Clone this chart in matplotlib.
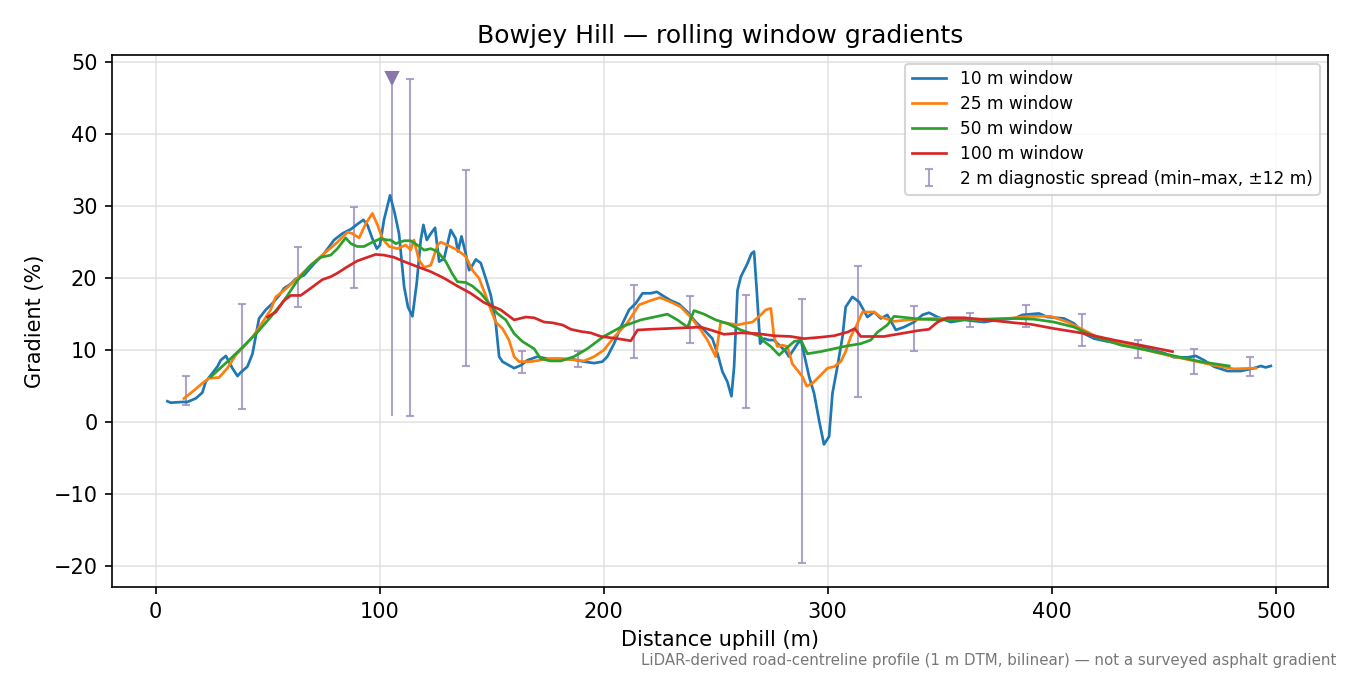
import matplotlib
matplotlib.use("Agg")
import matplotlib.pyplot as plt

# rolling-window gradient profiles (distance m, gradient %)
x10 = [5.2, 6.7, 11.9, 14.1, 17.9, 20.8, 22.3, 25.3, 27.5, 29.0,
       31.3, 32.7, 34.2, 36.5, 37.9, 40.9, 43.2, 44.6, 46.1, 49.1,
       52.1, 55.1, 57.3, 60.3, 62.5, 66.2, 70.7, 75.1, 79.6, 83.3,
       87.1, 90.0, 92.7, 94.5, 96.7, 98.7, 100.1, 101.9, 104.6, 106.7,
       108.6, 110.9, 112.6, 114.6, 116.5, 118.3, 119.5, 121.0, 122.8, 124.7,
       126.5, 128.7, 131.7, 133.9, 134.9, 136.5, 138.4, 139.9, 141.4, 142.9,
       145.1, 147.3, 149.6, 151.8, 153.3, 154.8, 157.7, 160.0, 163.0, 165.9,
       170.4, 174.9, 180.8, 186.7, 191.2, 195.7, 199.4, 201.6, 204.6, 207.6,
       211.3, 214.3, 217.3, 221.0, 223.7, 226.2, 229.9, 233.6, 237.4, 241.1,
       244.8, 248.5, 250.8, 253.0, 255.2, 257.0, 258.2, 259.7, 261.2, 264.1,
       265.9, 267.1, 268.3, 269.8, 271.6, 273.8, 276.0, 279.0, 281.3, 282.7,
       284.2, 286.5, 288.0, 289.4, 291.7, 293.9, 296.1, 298.3, 300.6, 302.1,
       304.3, 306.6, 308.0, 311.0, 314.0, 317.7, 320.7, 323.7, 326.6, 330.4,
       334.0, 338.5, 342.3, 345.2, 349.0, 354.9, 360.9, 369.8, 375.8, 383.2,
       386.9, 394.3, 398.1, 405.5, 410.0, 414.4, 418.9, 424.9, 432.3, 442.7,
       450.1, 454.6, 460.6, 464.3, 468.0, 472.5, 478.4, 484.4, 490.3, 493.3,
       495.5, 497.8]
g10 = [2.9, 2.7, 2.8, 2.8, 3.3, 4.1, 5.6, 6.8, 7.7, 8.6,
       9.2, 8.4, 7.5, 6.4, 6.9, 7.7, 9.5, 11.9, 14.4, 15.6,
       16.5, 17.6, 18.6, 19.2, 19.9, 20.4, 22.0, 23.4, 25.3, 26.2,
       26.8, 27.5, 28.1, 27.4, 25.5, 24.1, 24.6, 28.1, 31.5, 29.0,
       26.2, 18.8, 16.0, 14.7, 19.3, 25.3, 27.4, 25.3, 26.2, 27.0,
       22.3, 22.7, 26.7, 25.5, 23.7, 25.8, 23.4, 21.1, 21.8, 22.6,
       22.1, 20.0, 17.6, 13.7, 9.1, 8.4, 7.9, 7.5, 7.9, 8.6,
       9.1, 8.8, 8.8, 8.7, 8.4, 8.2, 8.4, 9.1, 10.9, 13.2,
       15.6, 16.5, 17.9, 17.9, 18.1, 17.6, 16.9, 16.4, 15.3, 13.9,
       12.8, 11.6, 9.5, 7.0, 5.6, 3.6, 7.7, 18.3, 20.2, 22.0,
       23.4, 23.7, 18.3, 10.9, 11.6, 11.4, 11.4, 10.5, 9.8, 9.1,
       9.8, 10.9, 11.4, 9.5, 6.3, 4.0, 0.3, -3.1, -2.0, 4.0,
       7.7, 11.9, 16.0, 17.4, 16.7, 14.6, 15.3, 14.4, 14.9, 12.8,
       13.2, 13.9, 14.9, 15.2, 14.6, 13.9, 14.2, 13.9, 14.2, 14.4,
       14.9, 15.1, 14.6, 14.4, 13.7, 12.3, 11.6, 11.2, 10.9, 10.2,
       9.6, 9.0, 9.0, 9.2, 8.6, 7.7, 7.1, 7.1, 7.5, 7.8,
       7.6, 7.8]

x25 = [12.6, 17.1, 20.8, 23.8, 28.3, 32.0, 35.7, 39.4, 43.9, 48.4,
       51.3, 53.6, 57.3, 63.3, 69.2, 75.1, 81.1, 85.6, 87.8, 90.8,
       93.8, 96.7, 99.0, 101.2, 104.2, 107.9, 111.6, 113.8, 115.3, 117.5,
       119.8, 122.8, 125.8, 127.2, 130.2, 134.7, 138.4, 141.4, 144.3, 147.3,
       149.6, 151.8, 154.8, 157.7, 160.0, 162.2, 167.4, 173.4, 179.3, 185.3,
       191.2, 195.7, 200.0, 204.6, 210.6, 215.8, 221.0, 225.1, 229.9, 234.4,
       238.8, 243.3, 246.3, 250.0, 252.2, 256.0, 259.7, 262.6, 266.4, 270.1,
       272.3, 274.6, 276.0, 277.5, 279.8, 282.0, 284.2, 286.5, 288.7, 290.6,
       293.2, 296.1, 299.9, 302.8, 305.8, 308.0, 310.3, 312.5, 315.5, 320.7,
       323.7, 329.6, 335.6, 346.0, 360.9, 368.3, 380.2, 390.6, 399.6, 407.0,
       413.0, 420.4, 427.8, 439.7, 451.6, 462.1, 472.5, 481.4, 491.1]
g25 = [3.3, 4.4, 5.4, 6.1, 6.2, 7.5, 9.3, 10.5, 12.1, 14.2,
       15.6, 17.4, 18.3, 20.0, 21.8, 23.4, 25.0, 26.4, 26.2, 25.6,
       27.6, 29.0, 27.4, 25.5, 24.4, 24.1, 24.6, 23.9, 25.3, 22.5,
       21.5, 21.8, 24.6, 25.0, 24.6, 23.9, 23.0, 21.1, 20.0, 17.6,
       15.6, 13.9, 13.0, 11.4, 9.1, 8.4, 8.4, 8.7, 8.8, 8.7,
       8.5, 9.1, 10.0, 11.8, 13.8, 16.3, 16.9, 17.3, 16.7, 16.0,
       14.6, 12.8, 11.4, 9.1, 13.9, 13.7, 13.5, 13.7, 13.9, 14.9,
       15.6, 15.8, 11.9, 10.5, 10.7, 10.5, 8.1, 7.2, 6.3, 5.0,
       5.4, 6.3, 7.5, 7.7, 8.4, 9.8, 11.9, 13.2, 15.3, 15.3,
       14.6, 14.0, 14.2, 14.4, 14.4, 14.2, 14.4, 14.7, 14.7, 13.9,
       13.0, 11.8, 11.2, 10.2, 9.3, 8.6, 7.9, 7.4, 7.5]

x50 = [24.6, 32.0, 39.4, 45.4, 51.3, 57.3, 63.3, 69.2, 73.7, 78.1,
       81.1, 84.8, 87.1, 90.0, 93.0, 96.7, 100.4, 103.4, 104.9, 107.1,
       110.9, 113.8, 116.8, 119.8, 122.8, 125.8, 129.5, 132.4, 134.7, 138.4,
       141.4, 145.1, 148.8, 152.5, 156.3, 160.0, 163.7, 168.9, 171.9, 176.3,
       180.8, 186.7, 192.7, 200.0, 207.6, 216.5, 224.0, 228.4, 232.9, 237.4,
       240.3, 244.8, 250.0, 255.2, 261.2, 267.1, 270.1, 271.6, 274.6, 278.3,
       281.3, 285.0, 288.0, 290.9, 296.9, 302.8, 308.8, 314.7, 319.2, 322.2,
       326.6, 329.6, 335.6, 341.5, 353.4, 368.3, 383.2, 392.1, 401.0, 410.0,
       418.9, 430.8, 442.7, 454.6, 466.5, 479.2]
g50 = [6.3, 8.4, 10.6, 12.5, 14.6, 16.9, 19.7, 21.8, 22.9, 23.2,
       24.1, 25.6, 24.8, 24.4, 24.4, 25.0, 25.5, 25.3, 25.3, 24.8,
       25.2, 25.2, 24.6, 23.9, 24.1, 23.7, 22.3, 20.6, 19.5, 19.4,
       18.9, 17.9, 16.5, 15.1, 14.2, 12.3, 11.2, 10.2, 8.8, 8.5,
       8.5, 9.1, 10.2, 11.9, 13.2, 14.2, 14.7, 15.0, 14.2, 13.2,
       15.5, 15.0, 14.2, 13.7, 12.8, 12.2, 11.9, 11.2, 10.5, 9.3,
       10.2, 11.2, 11.4, 9.5, 9.8, 10.2, 10.6, 10.9, 11.4, 12.5,
       13.5, 14.7, 14.5, 14.3, 14.2, 14.3, 14.4, 14.3, 13.9, 13.2,
       11.9, 10.7, 10.0, 9.2, 8.4, 7.8]

x100 = [49.9, 53.6, 57.3, 60.3, 64.7, 69.2, 74.4, 78.1, 81.1, 85.6,
        90.0, 94.5, 98.2, 101.9, 106.4, 110.9, 116.8, 122.8, 128.7, 134.7,
        140.6, 146.6, 151.0, 154.0, 157.0, 160.0, 165.2, 168.9, 173.4, 177.1,
        181.6, 185.3, 189.7, 194.2, 198.7, 206.1, 212.1, 215.1, 221.0, 228.4,
        235.8, 243.3, 247.8, 253.7, 261.2, 268.6, 276.0, 283.5, 289.4, 296.9,
        302.8, 308.8, 312.1, 314.7, 325.1, 332.6, 340.0, 345.2, 349.0, 353.4,
        360.9, 371.3, 383.2, 390.6, 401.0, 413.0, 427.8, 442.7, 453.9]
g100 = [14.6, 15.3, 16.9, 17.6, 17.6, 18.6, 19.8, 20.2, 20.7, 21.6,
        22.4, 22.9, 23.3, 23.2, 22.9, 22.3, 21.6, 20.9, 20.0, 18.9,
        17.9, 16.6, 16.0, 15.6, 14.9, 14.2, 14.6, 14.5, 13.9, 13.8,
        13.5, 12.9, 12.6, 12.4, 11.9, 11.6, 11.3, 12.8, 12.9, 13.0,
        13.1, 13.2, 12.8, 12.2, 12.4, 12.3, 12.0, 11.9, 11.6, 11.8,
        12.0, 12.5, 13.0, 11.9, 11.9, 12.3, 12.7, 12.9, 13.9, 14.5,
        14.5, 14.2, 13.8, 13.6, 13.0, 12.4, 11.4, 10.5, 9.8]

# 2 m diagnostic spread, min-max over +-12 m
spread_x = [13.5, 38.5, 63.5, 88.5, 113.5, 138.5, 163.5, 188.5, 213.5, 238.5,
            263.5, 288.5, 313.5, 338.5, 363.5, 388.5, 413.5, 438.5, 463.5, 488.5]
spread_min = [2.4, 1.8, 16.0, 18.6, 0.8, 7.8, 6.8, 7.6, 8.9, 11.0,
              2.0, -19.6, 3.5, 9.9, 13.2, 13.2, 10.6, 8.9, 6.7, 6.4]
spread_max = [6.4, 16.4, 24.3, 29.9, 47.6, 35.0, 9.9, 9.9, 19.1, 17.5,
              17.7, 17.1, 21.7, 16.2, 15.2, 16.3, 15.0, 11.4, 10.1, 9.1]

# steepest 2 m point (clipped)
peak_x = [105.5]
peak_min = [0.8]
peak_max = [47.8]

fig, ax = plt.subplots(figsize=(9, 4.5), dpi=150)
fig.subplots_adjust(left=0.083, right=0.984, top=0.9185, bottom=0.1304)

ax.plot(x10, g10, color="#1f77b4", lw=1.3, label="10 m window", zorder=3)
ax.plot(x25, g25, color="#ff7f0e", lw=1.3, label="25 m window", zorder=3)
ax.plot(x50, g50, color="#2ca02c", lw=1.3, label="50 m window", zorder=3)
ax.plot(x100, g100, color="#d62728", lw=1.3, label="100 m window", zorder=3)

err_col = "#9f93c2"
mid = [(a + b) / 2 for a, b in zip(spread_min, spread_max)]
lo = [m - a for m, a in zip(mid, spread_min)]
hi = [b - m for m, b in zip(mid, spread_max)]
ax.errorbar(spread_x, mid, yerr=[lo, hi], fmt="none", ecolor=err_col,
            elinewidth=1.0, capsize=2, alpha=0.85, zorder=2,
            label="2 m diagnostic spread (min\u2013max, \u00b112 m)")

pmid = [(a + b) / 2 for a, b in zip(peak_min, peak_max)]
ax.errorbar(peak_x, pmid, yerr=[[m - a for m, a in zip(pmid, peak_min)],
                                [b - m for m, b in zip(pmid, peak_max)]],
            fmt="none", ecolor=err_col, elinewidth=1.0, capsize=0, alpha=0.85, zorder=2)
ax.plot(peak_x, peak_max, marker="v", color="#8777aa", ms=6, ls="none", zorder=4)

ax.set_xlim(-19.5, 523.5)
ax.set_ylim(-22.9, 51.0)
ax.grid(True, color="#dddddd", alpha=0.8, lw=0.8)
ax.set_axisbelow(True)

ax.set_title("Bowjey Hill \u2014 rolling window gradients", fontsize=12)
ax.set_xlabel("Distance uphill (m)", fontsize=10)
ax.set_ylabel("Gradient (%)", fontsize=10)
ax.legend(loc="upper right", fontsize=8.2, labelspacing=0.4)

fig.text(0.99, 0.01, "LiDAR-derived road-centreline profile (1 m DTM, bilinear) \u2014 not a surveyed asphalt gradient",
         ha="right", va="bottom", fontsize=7.2, color="#777777")

fig.savefig("out.png", dpi=150)
